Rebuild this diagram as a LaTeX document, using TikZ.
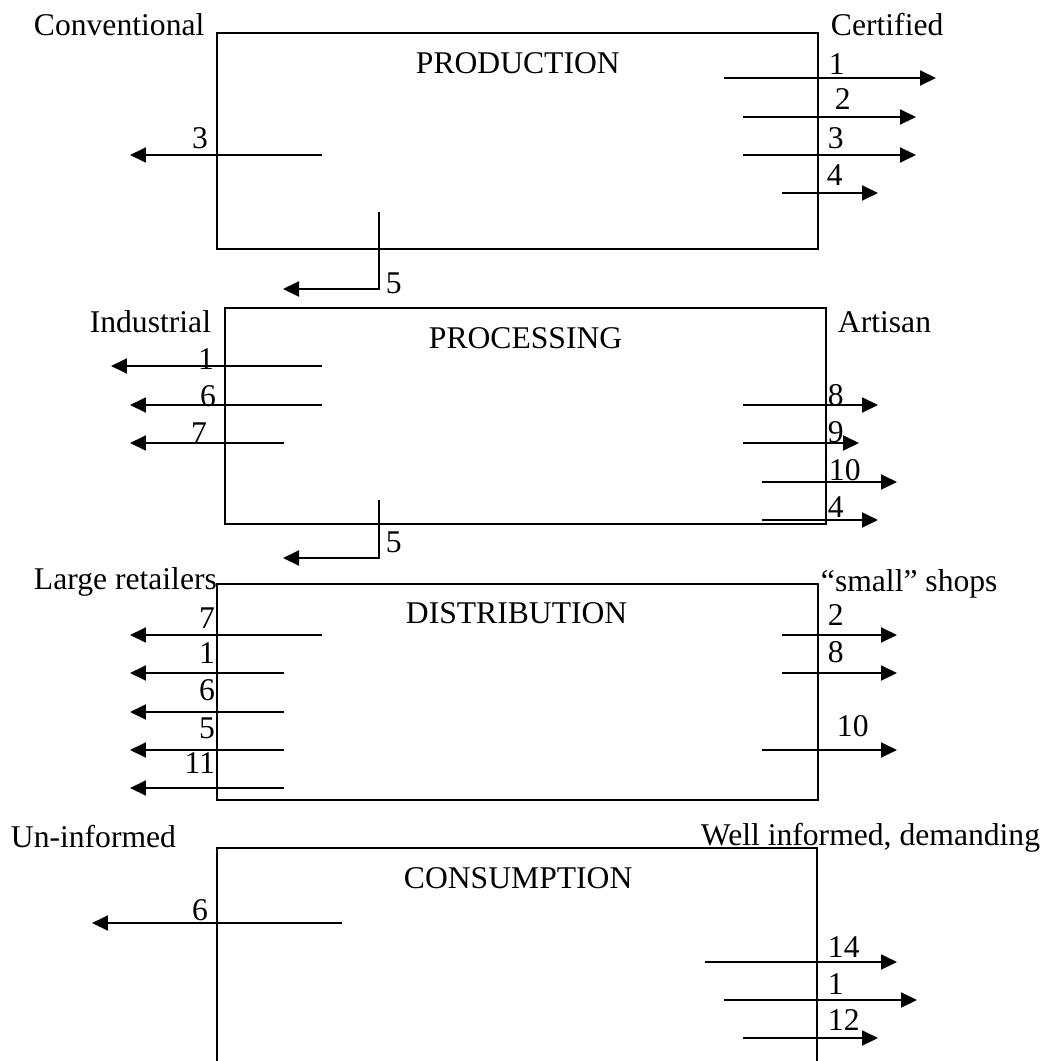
\documentclass[tikz,border=0pt]{standalone}
\usepackage{fontspec}
\setmainfont{Liberation Serif}
\usepackage{tikz}
\usetikzlibrary{arrows.meta,positioning}

\begin{document}
\begin{tikzpicture}[x=0.02cm,y=-0.02cm,line width=1.1pt,
	every node/.style={font=\fontsize{18pt}{20pt}\selectfont,inner sep=0pt},
	flow/.style={-{Triangle[length=0.32cm,width=0.3cm]}},
	rlab/.style={anchor=base west},
	llab/.style={anchor=base east}]
		\useasboundingbox (0,0) rectangle (1050,1061);
		% production
		\draw (217,33) rectangle (818,249);
		\node[rlab] (prodT) at (415,73) {PRODUCTION};
		\node[rlab] (conv) at (33,36) {Conventional};
		\node[rlab] (cert) at (830,36) {Certified};
		\coordinate (pdR1a) at (724,78);
		\coordinate (pdR1b) at (936,78);
		\coordinate (pdR2a) at (743,117);
		\coordinate (pdR2b) at (916,117);
		\coordinate (pdR3a) at (743,155);
		\coordinate (pdR3b) at (916,155);
		\coordinate (pdR4a) at (782,193);
		\coordinate (pdR4b) at (878,193);
		\coordinate (pdL3a) at (322,155);
		\coordinate (pdL3b) at (130,155);
		\coordinate (pd5a) at (379,212);
		\coordinate (pd5b) at (283,289);
		\draw[flow] (pdR1a) -- (pdR1b);
		\draw[flow] (pdR2a) -- (pdR2b);
		\draw[flow] (pdR3a) -- (pdR3b);
		\draw[flow] (pdR4a) -- (pdR4b);
		\draw[flow] (pdL3a) -- (pdL3b);
		\draw[flow] (pd5a) |- (pd5b);
		\node[rlab] (pdT1) at (828,75) {1};
		\node[rlab] (pdT2) at (834,110) {2};
		\node[rlab] (pdT3) at (827,148) {3};
		\node[rlab] (pdT4) at (826,185) {4};
		\node[llab] (pdT3l) at (209,148) {3};
		\node[rlab] (pdT5) at (385,293) {5};
		% processing
		\draw (225,308) rectangle (826,524);
		\node[rlab] (procT) at (428,348) {PROCESSING};
		\node[llab] (indu) at (212,332) {Industrial};
		\node[rlab] (arti) at (837,332) {Artisan};
		\coordinate (psL1a) at (322,366);
		\coordinate (psL1b) at (111,366);
		\coordinate (psL6a) at (322,405);
		\coordinate (psL6b) at (130,405);
		\coordinate (psL7a) at (284,443);
		\coordinate (psL7b) at (130,443);
		\coordinate (psR8a) at (743,405);
		\coordinate (psR8b) at (878,405);
		\coordinate (psR9a) at (743,443);
		\coordinate (psR9b) at (859,443);
		\coordinate (psR10a) at (762,482);
		\coordinate (psR10b) at (897,482);
		\coordinate (psR4a) at (762,520);
		\coordinate (psR4b) at (878,520);
		\coordinate (ps5a) at (379,500);
		\coordinate (ps5b) at (283,558);
		\draw[flow] (psL1a) -- (psL1b);
		\draw[flow] (psL6a) -- (psL6b);
		\draw[flow] (psL7a) -- (psL7b);
		\draw[flow] (psR8a) -- (psR8b);
		\draw[flow] (psR9a) -- (psR9b);
		\draw[flow] (psR10a) -- (psR10b);
		\draw[flow] (psR4a) -- (psR4b);
		\draw[flow] (ps5a) |- (ps5b);
		\node[llab] (psT1) at (215,369) {1};
		\node[llab] (psT6) at (217,406) {6};
		\node[llab] (psT7) at (208,443) {7};
		\node[rlab] (psT8) at (827,405) {8};
		\node[rlab] (psT9) at (827,442) {9};
		\node[rlab] (psT10) at (828,480) {10};
		\node[rlab] (psT4) at (827,517) {4};
		\node[rlab] (psT5) at (385,552) {5};
		% distribution
		\draw (217,584) rectangle (818,800);
		\node[rlab] (distT) at (405,623) {DISTRIBUTION};
		\node[rlab] (large) at (33,589) {Large retailers};
		\node[rlab] (small) at (820,591) {“small” shops};
		\coordinate (dsL7a) at (322,635);
		\coordinate (dsL7b) at (130,635);
		\coordinate (dsL1a) at (284,673);
		\coordinate (dsL1b) at (130,673);
		\coordinate (dsL6a) at (284,712);
		\coordinate (dsL6b) at (130,712);
		\coordinate (dsL5a) at (284,750);
		\coordinate (dsL5b) at (130,750);
		\coordinate (dsL11a) at (284,788);
		\coordinate (dsL11b) at (130,788);
		\coordinate (dsR2a) at (782,635);
		\coordinate (dsR2b) at (897,635);
		\coordinate (dsR8a) at (782,673);
		\coordinate (dsR8b) at (897,673);
		\coordinate (dsR10a) at (762,750);
		\coordinate (dsR10b) at (897,750);
		\draw[flow] (dsL7a) -- (dsL7b);
		\draw[flow] (dsL1a) -- (dsL1b);
		\draw[flow] (dsL6a) -- (dsL6b);
		\draw[flow] (dsL5a) -- (dsL5b);
		\draw[flow] (dsL11a) -- (dsL11b);
		\draw[flow] (dsR2a) -- (dsR2b);
		\draw[flow] (dsR8a) -- (dsR8b);
		\draw[flow] (dsR10a) -- (dsR10b);
		\node[llab] (dsT7) at (216,628) {7};
		\node[llab] (dsT1) at (216,663) {1};
		\node[llab] (dsT6) at (216,700) {6};
		\node[llab] (dsT5) at (216,738) {5};
		\node[llab] (dsT11) at (216,773) {11};
		\node[rlab] (dsT2) at (827,625) {2};
		\node[rlab] (dsT8) at (827,662) {8};
		\node[rlab] (dsT10) at (836,736) {10};
		% consumption
		\draw (217,1061) -- (217,848) -- (817,848) -- (817,1061);
		\node[rlab] (consT) at (403,888) {CONSUMPTION};
		\node[llab] (uninf) at (177,847) {Un-informed};
		\node[rlab] (wellinf) at (700,845) {Well informed, demanding};
		\coordinate (csL6a) at (342,923);
		\coordinate (csL6b) at (92,923);
		\coordinate (csR14a) at (705,962);
		\coordinate (csR14b) at (897,962);
		\coordinate (csR1a) at (724,1000);
		\coordinate (csR1b) at (917,1000);
		\coordinate (csR12a) at (743,1038);
		\coordinate (csR12b) at (878,1038);
		\draw[flow] (csL6a) -- (csL6b);
		\draw[flow] (csR14a) -- (csR14b);
		\draw[flow] (csR1a) -- (csR1b);
		\draw[flow] (csR12a) -- (csR12b);
		\node[llab] (csT6) at (209,920) {6};
		\node[rlab] (csT14) at (827,957) {14};
		\node[rlab] (csT1) at (827,994) {1};
		\node[rlab] (csT12) at (827,1030) {12};
	\end{tikzpicture}
\end{document}
